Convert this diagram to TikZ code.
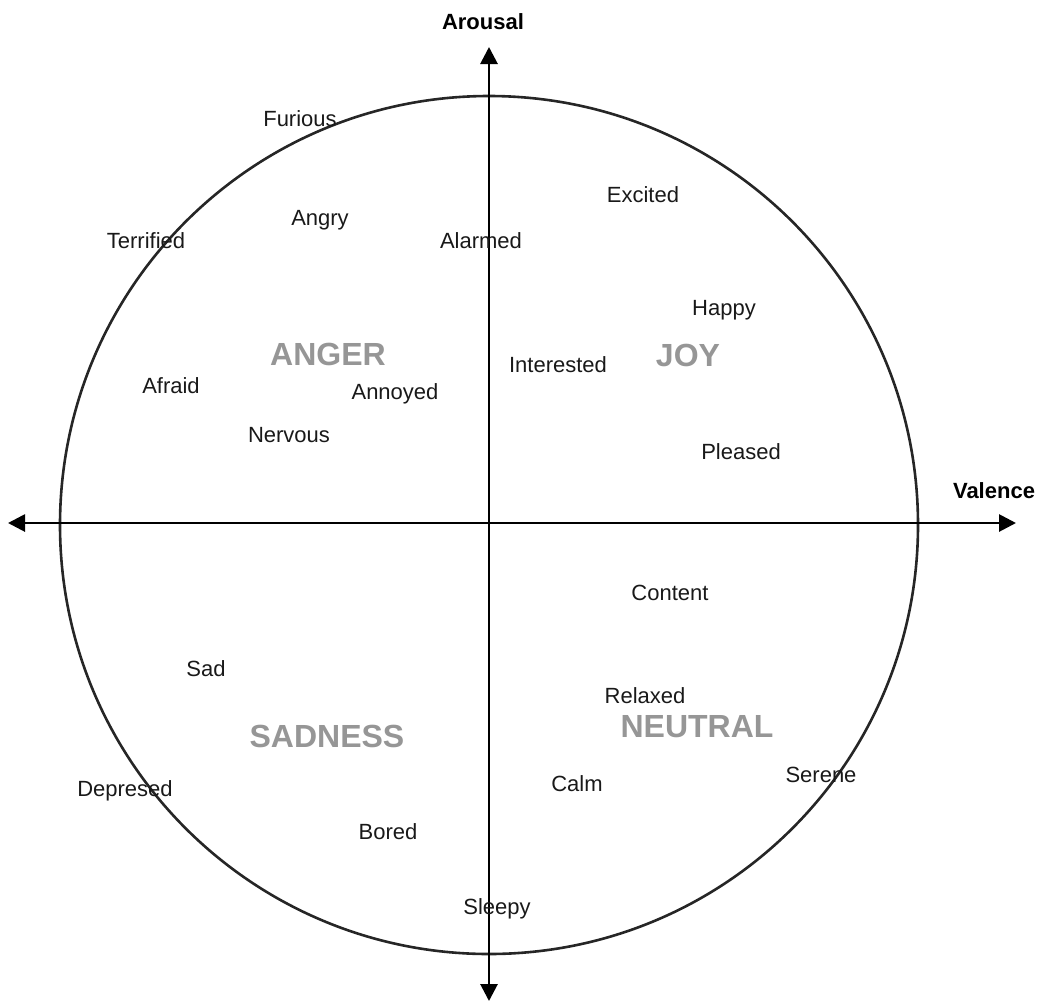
\documentclass[tikz,border=0pt]{standalone}
\usepackage{fontspec}
\setmainfont{Liberation Sans}
\usetikzlibrary{arrows.meta}
\definecolor{quad}{RGB}{150,150,150}
\begin{document}
\begin{tikzpicture}[x=1pt,y=-1pt,
  axis/.style={line width=2.8pt,-{Triangle[length=17pt,width=17pt]}},
  emo/.style={font=\fontsize{22}{22}\selectfont,text=black!90,inner sep=0pt},
  region/.style={font=\bfseries\fontsize{32}{32}\selectfont,text=quad,inner sep=0pt},
  axlabel/.style={font=\bfseries\fontsize{22}{22}\selectfont,inner sep=0pt}]
\useasboundingbox (0,0) rectangle (1040,1002);
% circumplex circle
\coordinate (c) at (489,525);
\draw[line width=2.6pt, black!85] (c) circle[radius=429];
% axes
\coordinate (west) at (8,523);
\coordinate (east) at (1016,523);
\coordinate (north) at (489,47);
\coordinate (south) at (489,1001);
\draw[axis] (489,523) -- (east);
\draw[axis] (489,523) -- (west);
\draw[axis] (489,523) -- (north);
\draw[axis] (489,523) -- (south);
\node[axlabel] (arousal) at (483,22) {Arousal};
\node[axlabel] (valence) at (994,491) {Valence};
% regions
\node[region] (anger) at (328,354) {ANGER};
\node[region] (joy) at (688,355) {JOY};
\node[region] (sadness) at (327,736) {SADNESS};
\node[region] (neutral) at (697,727) {NEUTRAL};
% emotions
\node[emo] (furious) at (300,119) {Furious};
\node[emo] (excited) at (643,195) {Excited};
\node[emo] (angry) at (320,220) {Angry};
\node[emo] (terrified) at (146,241) {Terrified};
\node[emo] (alarmed) at (481,241) {Alarmed};
\node[emo] (happy) at (724,310) {Happy};
\node[emo] (interested) at (558,365) {Interested};
\node[emo] (afraid) at (171,386) {Afraid};
\node[emo] (annoyed) at (395,394) {Annoyed};
\node[emo] (nervous) at (289,435) {Nervous};
\node[emo] (pleased) at (741,452) {Pleased};
\node[emo] (content) at (670,593) {Content};
\node[emo] (sad) at (206,669) {Sad};
\node[emo] (relaxed) at (645,696) {Relaxed};
\node[emo] (serene) at (821,775) {Serene};
\node[emo] (calm) at (577,784) {Calm};
\node[emo] (depresed) at (125,791) {Depresed};
\node[emo] (bored) at (388,832) {Bored};
\node[emo] (sleepy) at (497,909) {Sleepy};
\end{tikzpicture}
\end{document}
